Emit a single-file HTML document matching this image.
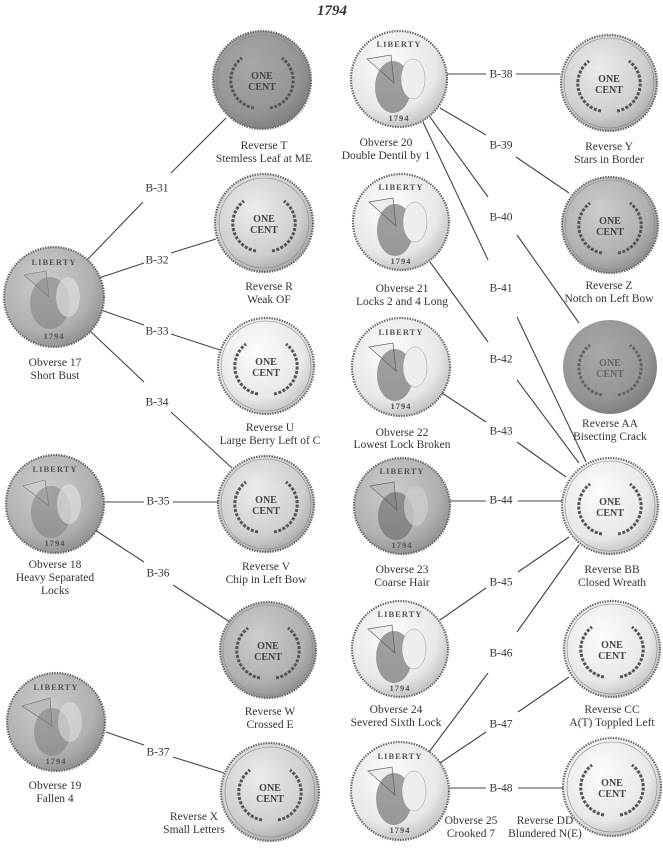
<!DOCTYPE html>
<html><head><meta charset="utf-8"><style>
html,body{margin:0;padding:0;background:#fff}
svg{display:block}
text{font-family:"Liberation Serif",serif;fill:#333}
.l{font-size:11.5px;text-anchor:middle}
.b{font-size:11.5px;text-anchor:middle;dominant-baseline:middle}
.ln{stroke:#444;stroke-width:1.1;fill:none}
.rim{stroke:#666;stroke-width:2.2;stroke-dasharray:1.4 1.2}
.in{fill:none;stroke:#888;stroke-width:.6}
.wr{fill:none;stroke:#555;stroke-width:3;stroke-dasharray:3 1.5}
.oc{font-size:10px;text-anchor:middle;font-weight:bold;fill:#444}
.lib{font-size:8.5px;text-anchor:middle;font-weight:bold;fill:#555;letter-spacing:1px}
</style></head><body>
<svg width="663" height="849" viewBox="0 0 663 849" xmlns="http://www.w3.org/2000/svg">
<defs>
<radialGradient id="gw" cx="40%" cy="35%" r="70%"><stop offset="0" stop-color="#fcfcfc"/><stop offset=".7" stop-color="#e8e8e8"/><stop offset="1" stop-color="#bdbdbd"/></radialGradient>
<radialGradient id="gl" cx="40%" cy="35%" r="70%"><stop offset="0" stop-color="#ececec"/><stop offset=".7" stop-color="#cecece"/><stop offset="1" stop-color="#a4a4a4"/></radialGradient>
<radialGradient id="gm" cx="40%" cy="35%" r="70%"><stop offset="0" stop-color="#cdcdcd"/><stop offset=".7" stop-color="#b0b0b0"/><stop offset="1" stop-color="#8c8c8c"/></radialGradient>
<radialGradient id="gd" cx="40%" cy="35%" r="70%"><stop offset="0" stop-color="#a8a8a8"/><stop offset=".7" stop-color="#959595"/><stop offset="1" stop-color="#7a7a7a"/></radialGradient>
</defs>

<text x="332" y="15" style="font-size:15px;font-style:italic;font-weight:bold;text-anchor:middle">1794</text>

<g class="ln">
<line x1="87" y1="260" x2="143" y2="202"/><line x1="171" y1="173" x2="226" y2="118"/>
<line x1="99" y1="278" x2="144" y2="263"/><line x1="171" y1="253" x2="216" y2="239"/>
<line x1="101" y1="310" x2="144" y2="325"/><line x1="171" y1="334" x2="220" y2="350"/>
<line x1="89" y1="330" x2="144" y2="382"/><line x1="171" y1="412" x2="232" y2="468"/>
<line x1="104" y1="502" x2="144" y2="502"/><line x1="173" y1="502" x2="218" y2="502"/>
<line x1="95" y1="530" x2="144" y2="562"/><line x1="173" y1="585" x2="230" y2="622"/>
<line x1="106" y1="732" x2="144" y2="745"/><line x1="173" y1="757" x2="224" y2="773"/>
<line x1="447" y1="74" x2="486" y2="74"/><line x1="516" y1="74" x2="560" y2="74"/>
<line x1="440" y1="108" x2="486" y2="135"/><line x1="516" y1="157" x2="569" y2="193"/>
<line x1="430" y1="117" x2="488" y2="197"/><line x1="517" y1="235" x2="579" y2="323"/>
<line x1="423" y1="122" x2="488" y2="260"/><line x1="517" y1="317" x2="586" y2="462"/>
<line x1="430" y1="262" x2="488" y2="342"/><line x1="517" y1="380" x2="579" y2="463"/>
<line x1="442" y1="393" x2="486" y2="422"/><line x1="517" y1="442" x2="566" y2="477"/>
<line x1="449" y1="501" x2="486" y2="501"/><line x1="518" y1="501" x2="562" y2="501"/>
<line x1="440" y1="620" x2="486" y2="588"/><line x1="518" y1="572" x2="569" y2="537"/>
<line x1="429" y1="752" x2="488" y2="673"/><line x1="517" y1="632" x2="579" y2="545"/>
<line x1="440" y1="763" x2="486" y2="732"/><line x1="518" y1="712" x2="569" y2="677"/>
<line x1="448" y1="788" x2="486" y2="788"/><line x1="518" y1="788" x2="564" y2="788"/>
</g>

<text class="b" x="157" y="189">B-31</text><text class="b" x="157" y="261">B-32</text>
<text class="b" x="157" y="332">B-33</text><text class="b" x="157" y="403">B-34</text>
<text class="b" x="158" y="502">B-35</text><text class="b" x="158" y="574">B-36</text>
<text class="b" x="158" y="753">B-37</text>
<text class="b" x="501" y="75">B-38</text><text class="b" x="501" y="146">B-39</text>
<text class="b" x="501" y="218">B-40</text><text class="b" x="501" y="289">B-41</text>
<text class="b" x="501" y="360">B-42</text><text class="b" x="501" y="432">B-43</text>
<text class="b" x="501" y="501">B-44</text><text class="b" x="501" y="583">B-45</text>
<text class="b" x="501" y="654">B-46</text><text class="b" x="501" y="725">B-47</text>
<text class="b" x="501" y="789">B-48</text>

<g transform="translate(262,80)"><circle r="49" fill="url(#gd)" class="rim"/><circle r="45" class="in"/><path class="wr" d="M-8,28 A28,28 0 0 1 -20,-22 M8,28 A28,28 0 0 0 20,-22"/><text class="oc" y="-1">ONE</text><text class="oc" y="10">CENT</text></g>
<g transform="translate(264,223)"><circle r="49" fill="url(#gl)" class="rim"/><circle r="45" class="in"/><path class="wr" d="M-8,28 A28,28 0 0 1 -20,-22 M8,28 A28,28 0 0 0 20,-22"/><text class="oc" y="-1">ONE</text><text class="oc" y="10">CENT</text></g>
<g transform="translate(266,366)"><circle r="48" fill="url(#gw)" class="rim"/><circle r="45" class="in"/><path class="wr" d="M-8,28 A28,28 0 0 1 -20,-22 M8,28 A28,28 0 0 0 20,-22"/><text class="oc" y="-1">ONE</text><text class="oc" y="10">CENT</text></g>
<g transform="translate(266,504)"><circle r="48" fill="url(#gl)" class="rim"/><circle r="45" class="in"/><path class="wr" d="M-8,28 A28,28 0 0 1 -20,-22 M8,28 A28,28 0 0 0 20,-22"/><text class="oc" y="-1">ONE</text><text class="oc" y="10">CENT</text></g>
<g transform="translate(268,650)"><circle r="48" fill="url(#gm)" class="rim"/><circle r="45" class="in"/><path class="wr" d="M-8,28 A28,28 0 0 1 -20,-22 M8,28 A28,28 0 0 0 20,-22"/><text class="oc" y="-1">ONE</text><text class="oc" y="10">CENT</text></g>
<g transform="translate(270,792)"><circle r="49" fill="url(#gl)" class="rim"/><circle r="45" class="in"/><path class="wr" d="M-8,28 A28,28 0 0 1 -20,-22 M8,28 A28,28 0 0 0 20,-22"/><text class="oc" y="-1">ONE</text><text class="oc" y="10">CENT</text></g>
<g transform="translate(609,83)"><circle r="48" fill="url(#gl)" class="rim"/><circle r="45" class="in"/><path class="wr" d="M-8,28 A28,28 0 0 1 -20,-22 M8,28 A28,28 0 0 0 20,-22"/><text class="oc" y="-1">ONE</text><text class="oc" y="10">CENT</text></g>
<g transform="translate(610,225)"><circle r="48" fill="url(#gm)" class="rim"/><circle r="45" class="in"/><path class="wr" d="M-8,28 A28,28 0 0 1 -20,-22 M8,28 A28,28 0 0 0 20,-22"/><text class="oc" y="-1">ONE</text><text class="oc" y="10">CENT</text></g>
<g transform="translate(610,367)"><circle r="47" fill="url(#gd)" stroke="none"/><path class="wr" style="stroke:#666" d="M-8,28 A28,28 0 0 1 -20,-22 M8,28 A28,28 0 0 0 20,-22"/><text class="oc" y="-1" style="fill:#666">ONE</text><text class="oc" y="10" style="fill:#666">CENT</text></g>
<g transform="translate(610,506)"><circle r="48" fill="url(#gw)" class="rim"/><circle r="45" class="in"/><path class="wr" d="M-8,28 A28,28 0 0 1 -20,-22 M8,28 A28,28 0 0 0 20,-22"/><text class="oc" y="-1">ONE</text><text class="oc" y="10">CENT</text></g>
<g transform="translate(612,649)"><circle r="48" fill="url(#gw)" class="rim"/><circle r="45" class="in"/><path class="wr" d="M-8,28 A28,28 0 0 1 -20,-22 M8,28 A28,28 0 0 0 20,-22"/><text class="oc" y="-1">ONE</text><text class="oc" y="10">CENT</text></g>
<g transform="translate(612,787)"><circle r="49" fill="url(#gw)" class="rim"/><circle r="45" class="in"/><path class="wr" d="M-8,28 A28,28 0 0 1 -20,-22 M8,28 A28,28 0 0 0 20,-22"/><text class="oc" y="-1">ONE</text><text class="oc" y="10">CENT</text></g>

<g transform="translate(54,297)"><circle r="50" fill="url(#gm)" class="rim"/><path d="M-30,-22 L-8,-26 L-5,0 Z" fill="#bbb" stroke="#777" stroke-width=".6"/><ellipse cx="-4" cy="6" rx="20" ry="26" fill="#777" opacity=".5"/><ellipse cx="14" cy="0" rx="12" ry="20" fill="#ddd" opacity=".7"/><text class="lib" y="-32">LIBERTY</text><text class="lib" y="42">1794</text></g>
<g transform="translate(55,504)"><circle r="49" fill="url(#gm)" class="rim"/><path d="M-32,-18 L-10,-24 L-6,2 Z" fill="#ccc" stroke="#777" stroke-width=".6"/><ellipse cx="-4" cy="8" rx="20" ry="26" fill="#777" opacity=".5"/><ellipse cx="14" cy="0" rx="12" ry="20" fill="#ddd" opacity=".7"/><text class="lib" y="-32">LIBERTY</text><text class="lib" y="42">1794</text></g>
<g transform="translate(56,722)"><circle r="49" fill="url(#gm)" class="rim"/><path d="M-34,-16 L-6,-24 L-4,4 Z" fill="#bbb" stroke="#666" stroke-width=".6"/><ellipse cx="-4" cy="10" rx="18" ry="24" fill="#777" opacity=".5"/><ellipse cx="14" cy="0" rx="12" ry="20" fill="#ddd" opacity=".6"/><text class="lib" y="-32">LIBERTY</text><text class="lib" y="42">1794</text></g>
<g transform="translate(399,79)"><circle r="48" fill="url(#gw)" class="rim"/><path d="M-32,-20 L-8,-24 L-5,4 Z" fill="#eee" stroke="#666" stroke-width=".7"/><ellipse cx="-6" cy="8" rx="18" ry="26" fill="#555" opacity=".55"/><ellipse cx="14" cy="0" rx="12" ry="20" fill="#eee" stroke="#999" stroke-width=".5"/><text class="lib" y="-32">LIBERTY</text><text class="lib" y="42">1794</text></g>
<g transform="translate(401,222)"><circle r="48" fill="url(#gw)" class="rim"/><path d="M-32,-20 L-8,-24 L-5,4 Z" fill="#eee" stroke="#666" stroke-width=".7"/><ellipse cx="-6" cy="8" rx="18" ry="26" fill="#555" opacity=".55"/><ellipse cx="14" cy="0" rx="12" ry="20" fill="#eee" stroke="#999" stroke-width=".5"/><text class="lib" y="-32">LIBERTY</text><text class="lib" y="42">1794</text></g>
<g transform="translate(401,367)"><circle r="49" fill="url(#gw)" class="rim"/><path d="M-32,-20 L-8,-24 L-5,4 Z" fill="#eee" stroke="#666" stroke-width=".7"/><ellipse cx="-6" cy="8" rx="18" ry="26" fill="#555" opacity=".55"/><ellipse cx="14" cy="0" rx="12" ry="20" fill="#eee" stroke="#999" stroke-width=".5"/><text class="lib" y="-32">LIBERTY</text><text class="lib" y="42">1794</text></g>
<g transform="translate(402,506)"><circle r="48" fill="url(#gm)" class="rim"/><path d="M-32,-20 L-8,-24 L-5,4 Z" fill="#bbb" stroke="#666" stroke-width=".7"/><ellipse cx="-6" cy="10" rx="18" ry="24" fill="#555" opacity=".5"/><ellipse cx="14" cy="0" rx="12" ry="20" fill="#ccc" opacity=".8"/><text class="lib" y="-32">LIBERTY</text><text class="lib" y="42">1794</text></g>
<g transform="translate(400,649)"><circle r="48" fill="url(#gw)" class="rim"/><path d="M-32,-20 L-8,-24 L-5,4 Z" fill="#eee" stroke="#666" stroke-width=".7"/><ellipse cx="-6" cy="8" rx="18" ry="26" fill="#555" opacity=".55"/><ellipse cx="14" cy="0" rx="12" ry="20" fill="#eee" stroke="#999" stroke-width=".5"/><text class="lib" y="-32">LIBERTY</text><text class="lib" y="42">1794</text></g>
<g transform="translate(400,791)"><circle r="49" fill="url(#gw)" class="rim"/><path d="M-32,-20 L-8,-24 L-5,4 Z" fill="#eee" stroke="#666" stroke-width=".7"/><ellipse cx="-6" cy="8" rx="18" ry="26" fill="#555" opacity=".55"/><ellipse cx="14" cy="0" rx="12" ry="20" fill="#eee" stroke="#999" stroke-width=".5"/><text class="lib" y="-32">LIBERTY</text><text class="lib" y="42">1794</text></g>

<text class="l" x="264" y="149">Reverse T</text><text class="l" x="264" y="162">Stemless Leaf at ME</text>
<text class="l" x="269" y="290">Reverse R</text><text class="l" x="269" y="303">Weak OF</text>
<text class="l" x="270" y="431">Reverse U</text><text class="l" x="270" y="444">Large Berry Left of C</text>
<text class="l" x="266" y="570">Reverse V</text><text class="l" x="266" y="583">Chip in Left Bow</text>
<text class="l" x="270" y="715">Reverse W</text><text class="l" x="270" y="728">Crossed E</text>
<text class="l" x="194" y="820">Reverse X</text><text class="l" x="194" y="833">Small Letters</text>
<text class="l" x="55" y="366">Obverse 17</text><text class="l" x="55" y="379">Short Bust</text>
<text class="l" x="55" y="568">Obverse 18</text><text class="l" x="55" y="581">Heavy Separated</text><text class="l" x="55" y="594">Locks</text>
<text class="l" x="55" y="789">Obverse 19</text><text class="l" x="55" y="802">Fallen 4</text>
<text class="l" x="386" y="146">Obverse 20</text><text class="l" x="386" y="159">Double Dentil by 1</text>
<text class="l" x="402" y="292">Obverse 21</text><text class="l" x="402" y="305">Locks 2 and 4 Long</text>
<text class="l" x="402" y="436">Obverse 22</text><text class="l" x="402" y="448">Lowest Lock Broken</text>
<text class="l" x="402" y="573">Obverse 23</text><text class="l" x="402" y="586">Coarse Hair</text>
<text class="l" x="396" y="713">Obverse 24</text><text class="l" x="396" y="726">Severed Sixth Lock</text>
<text class="l" x="471" y="824">Obverse 25</text><text class="l" x="471" y="837">Crooked 7</text>
<text class="l" x="609" y="150">Reverse Y</text><text class="l" x="609" y="163">Stars in Border</text>
<text class="l" x="609" y="289">Reverse Z</text><text class="l" x="609" y="302">Notch on Left Bow</text>
<text class="l" x="610" y="427">Reverse AA</text><text class="l" x="610" y="440">Bisecting Crack</text>
<text class="l" x="612" y="573">Reverse BB</text><text class="l" x="612" y="586">Closed Wreath</text>
<text class="l" x="612" y="713">Reverse CC</text><text class="l" x="612" y="726">A(T) Toppled Left</text>
<text class="l" x="545" y="824">Reverse DD</text><text class="l" x="545" y="837">Blundered N(E)</text>
</svg>
</body></html>
